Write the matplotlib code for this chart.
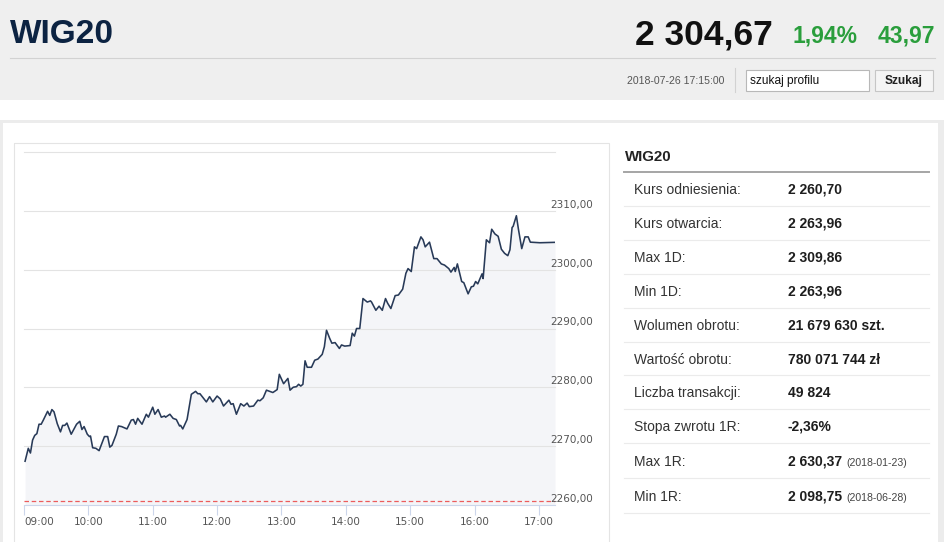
import matplotlib
matplotlib.use("Agg")
import matplotlib.pyplot as plt
from matplotlib.patches import Rectangle
from matplotlib.transforms import blended_transform_factory, ScaledTranslation

plt.rcParams['font.family'] = ['Liberation Sans', 'DejaVu Sans']

# ---------------- data ----------------
index_name = "WIG20"
last_value = "2 304,67"
change_pct = "1,94%"
change_abs = "43,97"
timestamp = "2018-07-26 17:15:00"
reference_level = 2260.70

# minutes after 09:00
minutes = [1, 4, 6, 8, 10, 12, 14, 16, 18, 21,
           22, 24, 26, 28, 31, 34, 36, 38, 40, 44,
           47, 49, 52, 54, 56, 59, 61, 62, 64, 67,
           70, 75, 78, 80, 82, 86, 88, 91, 96, 100,
           102, 104, 106, 110, 114, 116, 120, 122, 125, 128,
           131, 132, 136, 139, 142, 145, 146, 148, 152, 156,
           160, 162, 164, 170, 173, 176, 180, 183, 186, 188,
           191, 193, 195, 198, 202, 205, 208, 210, 214, 218,
           220, 223, 226, 232, 236, 238, 242, 246, 248, 251,
           254, 256, 258, 260, 262, 264, 268, 271, 274, 278,
           280, 282, 285, 287, 290, 294, 296, 299, 304, 306,
           308, 310, 313, 316, 320, 323, 324, 328, 331, 334,
           337, 339, 342, 346, 349, 353, 356, 358, 361, 364,
           366, 370, 372, 374, 378, 382, 385, 389, 392, 396,
           398, 401, 402, 404, 408, 410, 414, 417, 419, 421,
           423, 427, 428, 431, 434, 436, 439, 442, 445, 448,
           451, 453, 455, 456, 459, 461, 464, 467, 470, 472,
           481, 495]
prices = [2267.4, 2269.6, 2268.8, 2271.0, 2271.8, 2272.1, 2273.7, 2273.7, 2274.4, 2275.5,
          2275.9, 2275.2, 2276.2, 2275.8, 2273.8, 2272.4, 2273.5, 2273.5, 2273.9, 2272.0,
          2273.0, 2273.7, 2274.2, 2272.8, 2273.3, 2272.0, 2271.6, 2271.7, 2269.7, 2269.6,
          2269.2, 2271.6, 2271.6, 2269.8, 2270.1, 2272.0, 2273.4, 2273.3, 2272.9, 2274.4,
          2274.5, 2273.7, 2274.7, 2273.7, 2275.4, 2274.9, 2276.6, 2275.4, 2276.2, 2274.9,
          2275.1, 2274.9, 2275.4, 2274.7, 2274.5, 2273.4, 2273.5, 2272.9, 2274.5, 2278.8,
          2279.3, 2278.9, 2278.9, 2277.5, 2278.4, 2277.5, 2278.5, 2278.0, 2276.8, 2277.2,
          2277.8, 2277.1, 2277.2, 2275.4, 2277.2, 2276.8, 2277.3, 2276.7, 2276.8, 2277.8,
          2277.7, 2278.2, 2279.5, 2279.1, 2279.6, 2282.2, 2280.6, 2281.5, 2279.5, 2280.0,
          2280.1, 2280.5, 2280.2, 2280.5, 2284.5, 2283.4, 2283.4, 2284.6, 2284.8, 2285.6,
          2286.9, 2289.7, 2288.3, 2287.5, 2287.6, 2286.6, 2287.2, 2287.0, 2287.1, 2289.2,
          2288.7, 2290.0, 2290.0, 2295.1, 2294.5, 2294.7, 2294.5, 2293.1, 2293.8, 2293.1,
          2295.1, 2294.3, 2293.4, 2295.6, 2295.7, 2296.7, 2299.4, 2300.2, 2299.7, 2303.9,
          2303.6, 2305.6, 2305.1, 2303.9, 2304.7, 2301.9, 2301.9, 2301.0, 2300.8, 2300.2,
          2299.6, 2300.4, 2299.7, 2301.0, 2298.0, 2297.8, 2295.9, 2297.1, 2297.2, 2298.0,
          2297.6, 2299.3, 2298.5, 2305.1, 2304.6, 2306.9, 2306.1, 2305.7, 2303.5, 2302.8,
          2302.4, 2303.4, 2307.2, 2307.4, 2309.2, 2306.8, 2303.6, 2305.6, 2305.6, 2304.7,
          2304.6, 2304.67]

hour_labels = ["09:00", "10:00", "11:00", "12:00", "13:00", "14:00", "15:00", "16:00", "17:00"]
y_levels = [2260, 2270, 2280, 2290, 2300, 2310, 2320]
y_labelled = [2260, 2270, 2280, 2290, 2300, 2310]

table_labels = ["Kurs odniesienia:", "Kurs otwarcia:", "Max 1D:", "Min 1D:",
                "Wolumen obrotu:", "Wartość obrotu:", "Liczba transakcji:",
                "Stopa zwrotu 1R:", "Max 1R:", "Min 1R:"]
table_values = ["2 260,70", "2 263,96", "2 309,86", "2 263,96", "21 679 630 szt.",
                "780 071 744 zł", "49 824", "-2,36%", "2 630,37", "2 098,75"]
table_dates = ["", "", "", "", "", "", "", "", "(2018-01-23)", "(2018-06-28)"]

# ---------------- figure ----------------
W, H = 945, 542
fig = plt.figure(figsize=(W / 100, H / 100), dpi=100)
fig.patch.set_facecolor("white")
bg = fig.add_axes([0, 0, 1, 1])
bg.set_xlim(0, W)
bg.set_ylim(H, 0)
bg.axis("off")

# header
bg.add_patch(Rectangle((0, 0), W, 100, fc="#efefef", ec="none"))
bg.plot([10, 935], [58.3, 58.3], color="#d2d2d2", lw=0.8)
bg.plot([734.5, 734.5], [68, 92], color="#d2d2d2", lw=0.8)
bg.add_patch(Rectangle((746, 69.5), 123, 21, fc="white", ec="#b8b8b8", lw=0.8))
bg.add_patch(Rectangle((874.5, 69.5), 58, 21, fc="#f5f5f5", ec="#c6c6c6", lw=0.8))

bg.text(10, 43, index_name, fontsize=24, fontweight="bold", color="#0c2342", va="baseline", ha="left")
bg.text(773, 44, last_value, fontsize=25.5, fontweight="bold", color="#111111", va="baseline", ha="right")
bg.text(858, 42, change_pct, fontsize=16.5, fontweight="bold", color="#2a9e3c", va="baseline", ha="right")
bg.text(935, 42, change_abs, fontsize=16.5, fontweight="bold", color="#2a9e3c", va="baseline", ha="right")
bg.text(724, 83.8, timestamp, fontsize=7.6, color="#555555", va="baseline", ha="right")
bg.text(750, 84, "szukaj profilu", fontsize=8.6, color="#111111", va="baseline", ha="left")
bg.text(903.5, 84, "Szukaj", fontsize=8.6, fontweight="bold", color="#222222", va="baseline", ha="center")

# container borders
bg.add_patch(Rectangle((0, 120), W, 3, fc="#ececec", ec="none"))
bg.add_patch(Rectangle((0, 120), 3.3, H - 120, fc="#ececec", ec="none"))
bg.add_patch(Rectangle((938, 120), 7, H - 120, fc="#ececec", ec="none"))
bg.add_patch(Rectangle((14, 142.7), 595.3, 420, fc="none", ec="#e4e4e4", lw=0.8))

# table
bg.text(625, 160.7, index_name, fontsize=10.8, fontweight="bold", color="#222222", va="baseline", ha="left")
bg.plot([624, 929], [171.7, 171.7], color="#a5a5a5", lw=1.4)
seps = [171.7, 205.7, 239.7, 273.7, 307.7, 341.7, 375.3, 408.7, 442.7, 478.3, 513.3]
for i, (lab, val, dt) in enumerate(zip(table_labels, table_values, table_dates)):
    mid = (seps[i] + seps[i + 1]) / 2
    bg.text(634, mid + 5, lab, fontsize=10, color="#333333", va="baseline", ha="left")
    t = bg.text(787.5, mid + 5, val, fontsize=10, fontweight="bold", color="#1e1e1e", va="baseline", ha="left")
    if dt:
        bg.annotate(dt, xy=(1, 0), xycoords=t, xytext=(3.5, 0.7), textcoords="offset points",
                    fontsize=7.6, color="#444444", va="bottom", ha="left")
    bg.plot([624, 929], [seps[i + 1], seps[i + 1]], color="#ebebeb", lw=0.8)

# chart
ax = fig.add_axes([24 / W, 1 - 504.7 / H, 531 / W, 352.4 / H])
ax.set_facecolor("none")
ax.set_xlim(0, 495)
ax.set_ylim(2260, 2320)
ax.fill_between(minutes, prices, 2260, color="#f4f5f8", lw=0, zorder=1)
for lv in y_levels[1:]:
    ax.axhline(lv, color="#e3e3e3", lw=0.8, zorder=2, clip_on=False)
ax.axhline(reference_level, color="#ec5c5c", lw=0.9, ls=(0, (3.6, 2.2)), zorder=2)
ax.plot(minutes, prices, color="#283a58", lw=1.15, zorder=3)

for s in ["left", "right", "top"]:
    ax.spines[s].set_visible(False)
ax.spines["bottom"].set_color("#ccd6eb")
ax.spines["bottom"].set_linewidth(0.8)
ax.set_yticks([])
ax.set_xticks([i * 60 for i in range(len(hour_labels))])
ax.set_xticklabels(hour_labels, fontsize=7.5, color="#555555", family="DejaVu Sans")
ax.tick_params(axis="x", length=7.2, width=0.8, color="#ccd6eb", pad=1.5)
ax.get_xticklabels()[0].set_ha("left")

trans = blended_transform_factory(ax.transAxes, ax.transData) + \
    ScaledTranslation(-4.3 / 100, 6 / 100, fig.dpi_scale_trans)
for lv in y_labelled:
    ax.text(1, lv, f"{lv},00", transform=trans, fontsize=7.5, color="#555555",
            family="DejaVu Sans", ha="left", va="center", zorder=4)

fig.savefig("out.png", dpi=100)
